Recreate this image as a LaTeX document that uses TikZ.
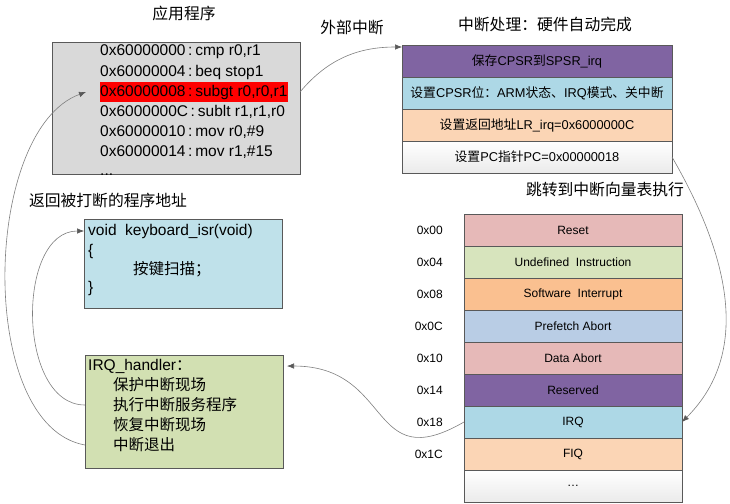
\documentclass[tikz,border=0pt]{standalone}
\usepackage{fontspec}
\setmainfont{Liberation Sans}
\newfontfamily\cjk{Noto Sans CJK SC}
\usepackage{tikz}
\usetikzlibrary{calc}
\usetikzlibrary{arrows.meta}
\usetikzlibrary{positioning}

\definecolor{edgegray}{HTML}{595959}
\definecolor{linegray}{HTML}{7F7F7F}
\definecolor{appgray}{HTML}{D9D9D9}
\definecolor{hwpurple}{HTML}{8064A2}
\definecolor{hwblue}{HTML}{ADD8E6}
\definecolor{hwpeach}{HTML}{FBD5B5}
\definecolor{resetpink}{HTML}{E6B9B8}
\definecolor{undefgreen}{HTML}{D7E4BD}
\definecolor{swiorange}{HTML}{FAC090}
\definecolor{prefblue}{HTML}{B9CDE5}
\definecolor{kbdblue}{HTML}{BFE1EA}
\definecolor{hdlgreen}{HTML}{D2E0B2}

\newcommand{\zh}[1]{{\cjk #1}}
\newcommand{\titlefont}{\cjk\fontsize{15.8}{18}\selectfont}
\newcommand{\codefont}{\fontsize{15.5}{18}\selectfont}
\newcommand{\rowfont}{\fontsize{12}{14}\selectfont}
\newcommand{\hwfont}{\fontsize{12.8}{15}\selectfont}
\newcommand{\addrsep}{\kern2.5pt:\kern3pt}

\tikzset{
  panel/.style={draw=edgegray, anchor=north west, inner sep=0pt, outer sep=0pt},
  txt/.style={anchor=west, inner sep=0pt, font=\codefont},
  hwrow/.style={draw=edgegray, minimum width=270pt, minimum height=32pt, inner sep=0pt, outer sep=0pt, font=\hwfont},
  vecrow/.style={draw=edgegray, minimum width=218pt, minimum height=32pt, inner sep=0pt, outer sep=0pt, font=\rowfont},
  veclabel/.style={inner sep=0pt, font=\rowfont},
  flow/.style={draw=linegray, line width=0.6pt, -{Latex[length=7pt,width=5.5pt,color=edgegray]}},
}

\begin{document}
\begin{tikzpicture}[x=1pt, y=-1pt]
    \useasboundingbox (0,0) rectangle (730,503);
    % Application program
    \node[font=\titlefont]                                  (apptitle) at (184,13)  {应用程序};
    \node[panel, fill=appgray, minimum width=248pt, minimum height=132pt] (app) at (52,42) {};
    \node[txt]                                              (codeA)    at (100,52)  {0x60000000\addrsep cmp r0,r1};
    \node[txt]                                              (codeB)    at (100,72)  {0x60000004\addrsep beq stop1};
    \node[txt, fill=red, minimum height=20pt]               (codeC)    at (100,92)  {0x60000008\addrsep subgt r0,r0,r1};
    \node[txt]                                              (codeD)    at (100,112) {0x6000000C\addrsep sublt r1,r1,r0};
    \node[txt]                                              (codeE)    at (100,132) {0x60000010\addrsep mov r0,\#9};
    \node[txt]                                              (codeF)    at (100,152) {0x60000014\addrsep mov r1,\#15};
    \node[txt]                                              (codeG)    at (100,175) {...};
    \node[font=\titlefont]                                  (extirq)   at (352,28)  {外部中断};

    % Hardware steps
    \node[font=\titlefont]                                  (hwtitle)  at (545,24)  {中断处理：硬件自动完成};
    \node[hwrow, fill=hwpurple, anchor=north west]          (hwA)      at (402,45)  {\zh{保存}CPSR\zh{到}SPSR\_irq};
    \node[hwrow, fill=hwblue, below=0pt of hwA]             (hwB)                   {\zh{设置}CPSR\zh{位：}ARM\zh{状态、}IRQ\zh{模式、关中断}};
    \node[hwrow, fill=hwpeach, below=0pt of hwB]            (hwC)                   {\zh{设置返回地址}LR\_irq=0x6000000C};
    \node[hwrow, top color=white, bottom color=black!8, below=0pt of hwC] (hwD)     {\zh{设置}PC\zh{指针}PC=0x00000018};
    \node[font=\titlefont]                                  (jumptxt)  at (605,190) {跳转到中断向量表执行};

    % Vector table
    \node[vecrow, fill=resetpink, anchor=north west]        (vReset)   at (464,214) {Reset};
    \node[vecrow, fill=undefgreen, below=0pt of vReset]     (vUndef)                {Undefined\ \ Instruction};
    \node[vecrow, fill=swiorange, below=0pt of vUndef]      (vSwi)                  {Software\ \ Interrupt};
    \node[vecrow, fill=prefblue, below=0pt of vSwi]         (vPref)                 {Prefetch Abort};
    \node[vecrow, fill=resetpink, below=0pt of vPref]       (vData)                 {Data Abort};
    \node[vecrow, fill=hwpurple, below=0pt of vData]        (vRes)                  {Reserved};
    \node[vecrow, fill=hwblue, below=0pt of vRes]           (vIrq)                  {IRQ};
    \node[vecrow, fill=hwpeach, below=0pt of vIrq]          (vFiq)                  {FIQ};
    \node[vecrow, top color=white, bottom color=black!8, below=0pt of vFiq] (vMore) {\ldots};
    \node[veclabel, left=21pt of vReset]                    (lReset)                {0x00};
    \node[veclabel, left=21pt of vUndef]                    (lUndef)                {0x04};
    \node[veclabel, left=21pt of vSwi]                      (lSwi)                  {0x08};
    \node[veclabel, left=21pt of vPref]                     (lPref)                 {0x0C};
    \node[veclabel, left=21pt of vData]                     (lData)                 {0x10};
    \node[veclabel, left=21pt of vRes]                      (lRes)                  {0x14};
    \node[veclabel, left=21pt of vIrq]                      (lIrq)                  {0x18};
    \node[veclabel, left=21pt of vFiq]                      (lFiq)                  {0x1C};

    % Service routine
    \node[font=\titlefont]                                  (rettxt)   at (108,200) {返回被打断的程序地址};
    \node[panel, fill=kbdblue, minimum width=198pt, minimum height=89pt] (kbd) at (84,219) {};
    \node[txt]                                              (kbdA)     at (88,231)  {void\ \ keyboard\_isr(void)};
    \node[txt]                                              (kbdB)     at (88,251)  {\{};
    \node[txt]                                              (kbdC)     at (133,269) {\zh{按键扫描；}};
    \node[txt]                                              (kbdD)     at (88,288)  {\}};

    % IRQ handler
    \node[panel, fill=hdlgreen, minimum width=198pt, minimum height=113pt] (hdl) at (85,355) {};
    \node[txt]                                              (hdlA)     at (88,366)  {IRQ\_handler\zh{：}};
    \node[txt]                                              (hdlB)     at (113,385) {\zh{保护中断现场}};
    \node[txt]                                              (hdlC)     at (113,405) {\zh{执行中断服务程序}};
    \node[txt]                                              (hdlD)     at (113,425) {\zh{恢复中断现场}};
    \node[txt]                                              (hdlE)     at (113,445) {\zh{中断退出}};

    % Connectors
    \draw[flow] (app.east |- codeC) to[out=50, in=180] ([yshift=-2pt]hwA.north west);
    \draw[flow] (hwD.east) to[out=-60, in=45] (vIrq.east);
    \draw[flow, shorten >=4pt] (vIrq.west) to[out=-150, in=0, looseness=1.5] (hdl.east |- hdlA);
    \draw[flow] (hdl.west |- hdlC) to[out=180, in=180] (kbd.west |- kbdA);
    \draw[flow] (hdl.west |- hdlE) to[out=170, in=200, looseness=0.8] ([xshift=-14pt]codeC.west);
\end{tikzpicture}
\end{document}
